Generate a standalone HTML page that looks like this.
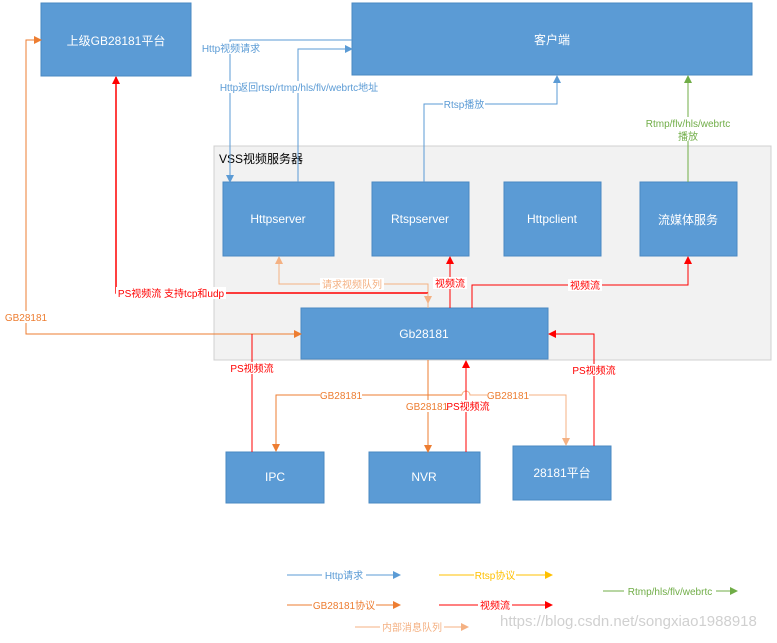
<!DOCTYPE html>
<html><head><meta charset="utf-8"><style>
body{margin:0;background:#fff}
svg text{font-family:"Liberation Sans","Noto Sans CJK SC",sans-serif}
</style></head><body>
<svg width="777" height="638" xmlns="http://www.w3.org/2000/svg">
<defs>
<marker id="ab" markerWidth="8" markerHeight="8" refX="7" refY="4" orient="auto" markerUnits="userSpaceOnUse"><path d="M0,0L8,4L0,8z" fill="#5b9bd5"/></marker>
<marker id="ar" markerWidth="8" markerHeight="8" refX="7" refY="4" orient="auto" markerUnits="userSpaceOnUse"><path d="M0,0L8,4L0,8z" fill="#ff0000"/></marker>
<marker id="ao" markerWidth="8" markerHeight="8" refX="7" refY="4" orient="auto" markerUnits="userSpaceOnUse"><path d="M0,0L8,4L0,8z" fill="#ed7d31"/></marker>
<marker id="al" markerWidth="8" markerHeight="8" refX="7" refY="4" orient="auto" markerUnits="userSpaceOnUse"><path d="M0,0L8,4L0,8z" fill="#f4b183"/></marker>
<marker id="ag" markerWidth="8" markerHeight="8" refX="7" refY="4" orient="auto" markerUnits="userSpaceOnUse"><path d="M0,0L8,4L0,8z" fill="#70ad47"/></marker>
<marker id="ay" markerWidth="8" markerHeight="8" refX="7" refY="4" orient="auto" markerUnits="userSpaceOnUse"><path d="M0,0L8,4L0,8z" fill="#ffc000"/></marker>
</defs>
<rect x="214" y="146" width="557" height="214" fill="#f2f2f2" stroke="#d0d0d0"/>
<text x="219" y="163" font-size="12" fill="#000">VSS视频服务器</text>
<g fill="#5b9bd5" stroke="#4a88c2" stroke-width="1">
<rect x="41" y="3" width="150" height="73"/>
<rect x="352" y="3" width="400" height="72"/>
<rect x="223" y="182" width="111" height="74"/>
<rect x="372" y="182" width="97" height="74"/>
<rect x="504" y="182" width="97" height="74"/>
<rect x="640" y="182" width="97" height="74"/>
<rect x="301" y="308" width="247" height="51"/>
<rect x="226" y="452" width="98" height="51"/>
<rect x="369" y="452" width="111" height="51"/>
<rect x="513" y="446" width="98" height="54"/>
</g>
<g fill="#fff" font-size="12" text-anchor="middle">
<text x="116" y="45">上级GB28181平台</text>
<text x="552" y="44">客户端</text>
<text x="278" y="223">Httpserver</text>
<text x="420" y="223">Rtspserver</text>
<text x="552" y="223">Httpclient</text>
<text x="688" y="224">流媒体服务</text>
<text x="424" y="338">Gb28181</text>
<text x="275" y="481">IPC</text>
<text x="424" y="481">NVR</text>
<text x="562" y="477">28181平台</text>
</g>
<g fill="none" stroke-width="1">
<path d="M352,40H230V182" stroke="#5b9bd5" marker-end="url(#ab)"/>
<path d="M298,182V49H352" stroke="#5b9bd5" marker-end="url(#ab)"/>
<path d="M424,182V104H557V76" stroke="#5b9bd5" marker-end="url(#ab)"/>
<path d="M688,182V76" stroke="#70ad47" marker-end="url(#ag)"/>
<path d="M428,308V284H279V257" stroke="#f4b183" marker-end="url(#al)"/>
<path d="M428,293H116V77" stroke="#ff0000" stroke-width="1.5" marker-end="url(#ar)"/>
<path d="M428,293V303" stroke="#f4b183" marker-end="url(#al)"/>
<path d="M450,308V257" stroke="#ff0000" marker-end="url(#ar)"/>
<path d="M472,308V285H688V257" stroke="#ff0000" marker-end="url(#ar)"/>
<path d="M26,317V40H41" stroke="#ed7d31" marker-end="url(#ao)"/>
<path d="M26,322V334H301" stroke="#ed7d31" marker-end="url(#ao)"/>
<path d="M252,452V334" stroke="#ff0000"/>
<path d="M594,446V334H549" stroke="#ff0000" marker-end="url(#ar)"/>
<path d="M428,360V452" stroke="#ed7d31" marker-end="url(#ao)"/>
<path d="M462,395H276V451" stroke="#ed7d31" marker-end="url(#ao)"/>
<path d="M462,395A4,4 0 0 1 470,395H566V445" stroke="#f4b183" marker-end="url(#al)"/>
<path d="M466,452V361" stroke="#ff0000" marker-end="url(#ar)"/>
<path d="M287,575H400" stroke="#5b9bd5" marker-end="url(#ab)"/>
<path d="M439,575H552" stroke="#ffc000" marker-end="url(#ay)"/>
<path d="M603,591H737" stroke="#70ad47" marker-end="url(#ag)"/>
<path d="M287,605H400" stroke="#ed7d31" marker-end="url(#ao)"/>
<path d="M439,605H552" stroke="#ff0000" marker-end="url(#ar)"/>
<path d="M355,627H468" stroke="#f4b183" marker-end="url(#al)"/>
</g>
<g font-size="10" text-anchor="middle">
<rect x="199" y="42" width="64" height="12" fill="#fff"/><text x="231" y="52" fill="#5b9bd5">Http视频请求</text>
<rect x="213" y="81" width="172" height="12" fill="#fff"/><text x="299" y="91" fill="#5b9bd5">Http返回rtsp/rtmp/hls/flv/webrtc地址</text>
<rect x="443" y="98" width="42" height="12" fill="#fff"/><text x="464" y="108" fill="#5b9bd5">Rtsp播放</text>
<rect x="642" y="117" width="92" height="24" fill="#fff"/><text x="688" y="127" fill="#70ad47">Rtmp/flv/hls/webrtc</text><text x="688" y="140" fill="#70ad47">播放</text>
<rect x="320" y="278" width="64" height="12" fill="#fff"/><text x="352" y="288" fill="#f4b183">请求视频队列</text>
<rect x="116" y="287" width="110" height="12" fill="#fff"/><text x="171" y="297" fill="#ff0000">PS视频流 支持tcp和udp</text>
<rect x="433" y="277" width="34" height="12" fill="#fff"/><text x="450" y="287" fill="#ff0000">视频流</text>
<rect x="568" y="279" width="34" height="12" fill="#fff"/><text x="585" y="289" fill="#ff0000">视频流</text>
<rect x="5" y="311" width="42" height="12" fill="#fff"/><text x="26" y="321" fill="#ed7d31">GB28181</text>
<rect x="230" y="362" width="44" height="12" fill="#fff"/><text x="252" y="372" fill="#ff0000">PS视频流</text>
<rect x="572" y="364" width="44" height="12" fill="#fff"/><text x="594" y="374" fill="#ff0000">PS视频流</text>
<rect x="320" y="389" width="42" height="12" fill="#fff"/><text x="341" y="399" fill="#ed7d31">GB28181</text>
<rect x="487" y="389" width="42" height="12" fill="#fff"/><text x="508" y="399" fill="#ed7d31">GB28181</text>
<rect x="406" y="400" width="84" height="12" fill="#fff"/><text x="427" y="410" fill="#ed7d31">GB28181</text><text x="468" y="410" fill="#ff0000">PS视频流</text>
<rect x="322" y="569" width="44" height="12" fill="#fff"/><text x="344" y="579" fill="#5b9bd5">Http请求</text>
<rect x="474" y="569" width="42" height="12" fill="#fff"/><text x="495" y="579" fill="#ffc000">Rtsp协议</text>
<rect x="624" y="585" width="92" height="12" fill="#fff"/><text x="670" y="595" fill="#70ad47">Rtmp/hls/flv/webrtc</text>
<rect x="312" y="599" width="64" height="12" fill="#fff"/><text x="344" y="609" fill="#ed7d31">GB28181协议</text>
<rect x="478" y="599" width="34" height="12" fill="#fff"/><text x="495" y="609" fill="#ff0000">视频流</text>
<rect x="380" y="621" width="64" height="12" fill="#fff"/><text x="412" y="631" fill="#f4b183">内部消息队列</text>
</g>
<text x="500" y="626" font-size="15" fill="#d0d0d0">https://blog.csdn.net/songxiao1988918</text>
</svg>
</body></html>
